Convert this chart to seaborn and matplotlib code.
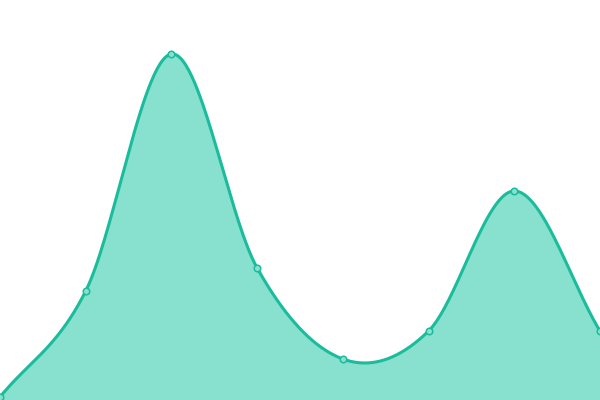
import numpy as np
import pandas as pd
import matplotlib
matplotlib.use("Agg")
import matplotlib.pyplot as plt
import seaborn as sns

# Data (value axis 0..400)
x_pos = [0, 1, 2, 3, 4, 5, 6, 7]
values = [3, 109, 346, 132, 41, 69, 209, 69]

line_color = "#1abc9c"
fill_color = "#88e0cf"


# smooth curve through the points (Catmull-Rom)
def catmull_rom(xs, ys, n=60):
    xs = np.asarray(xs, float)
    ys = np.asarray(ys, float)
    px = np.concatenate([[2 * xs[0] - xs[1]], xs, [2 * xs[-1] - xs[-2]]])
    py = np.concatenate([[2 * ys[0] - ys[1]], ys, [2 * ys[-1] - ys[-2]]])
    out_x, out_y = [], []
    for i in range(1, len(px) - 2):
        t = np.linspace(0, 1, n, endpoint=False)
        for p, out in ((px, out_x), (py, out_y)):
            p0, p1, p2, p3 = p[i - 1], p[i], p[i + 1], p[i + 2]
            out.extend(0.5 * ((2 * p1) + (-p0 + p2) * t
                              + (2 * p0 - 5 * p1 + 4 * p2 - p3) * t ** 2
                              + (-p0 + 3 * p1 - 3 * p2 + p3) * t ** 3))
    out_x.append(xs[-1])
    out_y.append(ys[-1])
    return np.array(out_x), np.array(out_y)


sx, sy = catmull_rom(x_pos, values)
curve = pd.DataFrame({"x": sx, "y": sy})
points = pd.DataFrame({"x": x_pos, "y": values})

sns.set_style("white")
fig = plt.figure(figsize=(6, 4), dpi=100)
ax = fig.add_axes([0, 0, 1, 1])

ax.fill_between(curve["x"], curve["y"], 0, color=fill_color, lw=0)
sns.lineplot(data=curve, x="x", y="y", ax=ax, color=line_color, lw=2.2, sort=False)
sns.scatterplot(data=points, x="x", y="y", ax=ax, color=fill_color, edgecolor=line_color,
                s=22, linewidth=1.1, zorder=5, clip_on=False)

ax.set_xlim(0, 7)
ax.set_ylim(0, 400)
ax.set_axis_off()

fig.savefig("out.png", dpi=100)
